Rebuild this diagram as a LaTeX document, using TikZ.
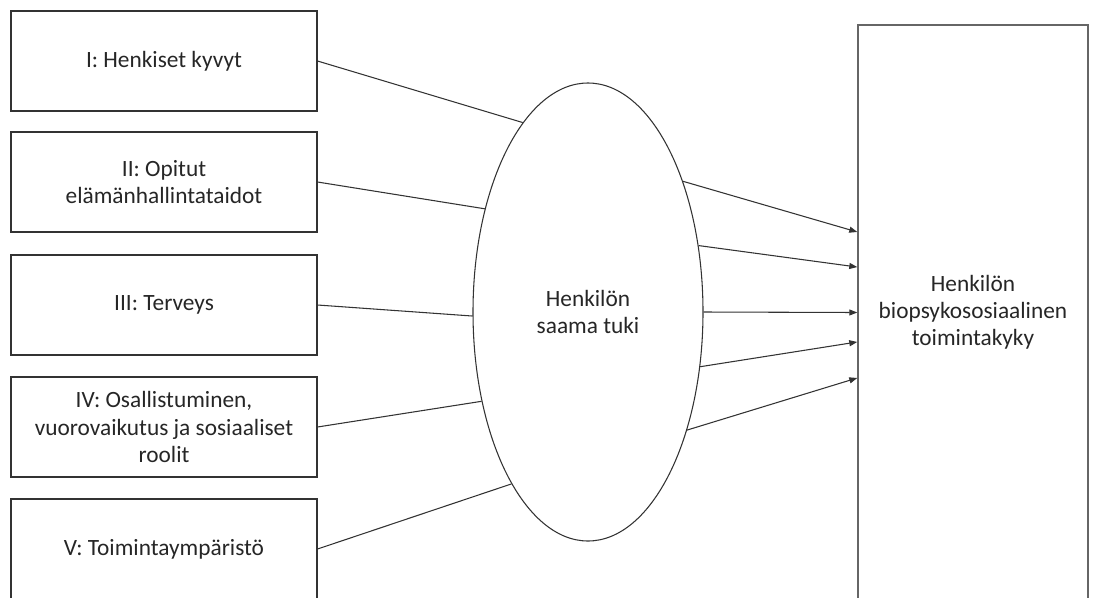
\documentclass[tikz,border=0pt]{standalone}
\usepackage{fontspec}
\setmainfont{Carlito}
\usetikzlibrary{positioning,arrows.meta,shapes.geometric}

\begin{document}
\begin{tikzpicture}[x=0.75pt, y=-0.75pt,
  font=\fontsize{17.5}{20.3}\selectfont, text=black!85,
  osa/.style={draw=black!80, line width=0.8pt, minimum width=229.5pt,
    minimum height=75pt, align=center, inner sep=2pt},
  yhteys/.style={draw=black!80, line width=0.8pt},
  nuoli/.style={yhteys, -{Triangle[length=6pt,width=4.5pt]}}]
  \clip (0,0) rectangle (1101,597);
  % left column: the five components
  \foreach \n/\y/\t in {1/61/{I: Henkiset kyvyt},
      2/182/{II: Opitut\\elämänhallintataidot},
      3/305/{III: Terveys},
      4/427/{IV: Osallistuminen,\\vuorovaikutus ja sosiaaliset\\roolit},
      5/549/{V: Toimintaympäristö}}{
    \node[osa] (osa\n) at (164,\y) {\t};
  }
  % middle: the support
  \node[ellipse, draw=black!80, line width=0.8pt, minimum width=172.5pt,
    minimum height=343.5pt, inner sep=0pt, align=center] (tuki) at (588,312)
    {Henkilön\\saama tuki};
  % right: functional capacity
  \node[draw=gray!80!black, line width=1.1pt, minimum width=172.5pt,
    minimum height=431.25pt, align=center] (toim) at (973,312.5)
    {Henkilön\\biopsykososiaalinen\\toimintakyky};
  \foreach \n/\a in {1/109.8, 2/135.6, 3/182, 4/220, 5/246.5}
    \draw[yhteys] (osa\n.east) -- (tuki.\a);
  \foreach \a/\d in {54.7/60.4, 31.5/34.1, 0/0, 334.5/-22.1, 310.3/-49.1}
    \draw[nuoli] (tuki.\a) -- ([yshift=\d pt]toim.west);
\end{tikzpicture}
\end{document}
